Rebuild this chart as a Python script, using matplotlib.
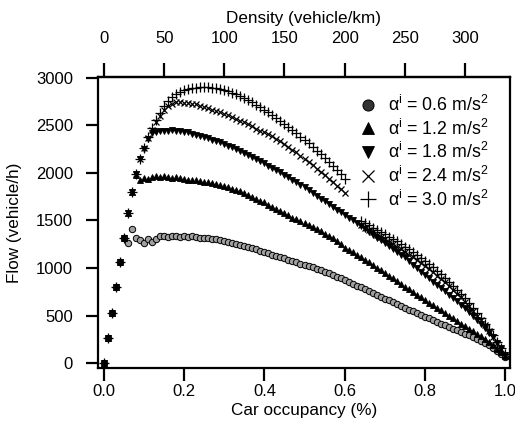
import matplotlib
matplotlib.use("Agg")
import matplotlib.pyplot as plt
from matplotlib.lines import Line2D

plt.rcParams['font.family'] = ['Liberation Sans', 'DejaVu Sans']
plt.rcParams['mathtext.fontset'] = 'custom'
plt.rcParams['mathtext.rm'] = 'Liberation Sans'

# ---------------- data ----------------
occ_full = [round(0.01 * i, 2) for i in range(101)]
occ_gap = occ_full[:61] + occ_full[64:]

flow_06 = [0, 265, 530, 800, 1060, 1320,
           1260, 1405, 1310, 1290,
           1265, 1300, 1270, 1300, 1335, 1340, 1330, 1335, 1340, 1330,
           1335, 1330, 1335, 1325, 1320, 1315, 1310, 1305, 1300, 1295,
           1285, 1270, 1265, 1255, 1245, 1235, 1220, 1205, 1195, 1180,
           1170, 1155, 1140, 1125, 1110, 1100, 1085, 1075, 1060, 1045,
           1030, 1020, 1005, 990, 975, 960, 945, 930, 910, 890,
           875, 855, 835, 815, 795, 775, 755, 735, 715, 695,
           675, 660, 640, 620, 600, 580, 560, 545, 525, 505,
           485, 470, 450, 430, 415, 395, 380, 360, 345, 325,
           305, 290, 270, 250, 230, 210, 185, 160, 130, 100,
           65]

flow_12 = [0, 265, 530, 800, 1060, 1320, 1580, 1800, 1980, 1930,
           1950, 1940, 1960, 1965, 1955, 1965, 1960, 1950, 1955, 1945,
           1935, 1930, 1930, 1920, 1915, 1905, 1900, 1890, 1880, 1870,
           1860, 1850, 1835, 1820, 1805, 1790, 1770, 1750, 1725, 1705,
           1690, 1665, 1640, 1620, 1595, 1575, 1555, 1530, 1510, 1490,
           1470, 1450, 1430, 1405, 1385, 1360, 1335, 1310, 1285, 1255,
           1215, 1190, 1165, 1135, 1110, 1085, 1060, 1030, 1000, 975,
           945, 920, 890, 860, 835, 805, 780, 750, 720, 690,
           665, 635, 610, 580, 555, 525, 500, 470, 445, 415,
           390, 360, 335, 305, 280, 250, 220, 185, 150, 115,
           75]

flow_18 = [0, 265, 530, 800, 1060, 1320, 1580, 1800, 1990, 2150,
           2255, 2360, 2420, 2425, 2435, 2440, 2445, 2450, 2445, 2440,
           2430, 2425, 2410, 2400, 2390, 2375, 2365, 2350, 2335, 2320,
           2300, 2285, 2270, 2250, 2230, 2210, 2190, 2165, 2145, 2120,
           2100, 2075, 2055, 2030, 2005, 1980, 1955, 1930, 1900, 1875,
           1850, 1820, 1790, 1760, 1730, 1700, 1670, 1640, 1610, 1585,
           1560, 1530, 1500, 1470, 1440, 1410, 1380, 1350, 1320, 1290,
           1260, 1230, 1200, 1170, 1140, 1110, 1070, 1035, 995, 960,
           925, 890, 855, 820, 790, 755, 720, 685, 650, 610,
           575, 535, 495, 455, 410, 365, 320, 270, 215, 155,
           85]

flow_24 = [0, 265, 530, 800, 1060, 1320, 1580, 1800, 1990, 2150,
           2260, 2370, 2450, 2540, 2600, 2660, 2700, 2725, 2740, 2740,
           2735, 2730, 2725, 2720, 2705, 2690, 2680, 2665, 2650, 2635,
           2620, 2605, 2590, 2570, 2550, 2530, 2510, 2490, 2465, 2445,
           2425, 2405, 2385, 2360, 2335, 2305, 2275, 2245, 2215, 2180,
           2145, 2110, 2080, 2045, 2010, 1975, 1940, 1900, 1865, 1830,
           1790,
           1450, 1425, 1400, 1375, 1350, 1325,
           1300, 1275, 1250, 1225, 1200, 1170, 1140, 1110, 1080, 1050,
           1020, 990, 955, 920, 885, 850, 810, 770, 730, 690,
           645, 600, 550, 500, 450, 395, 335, 275, 210, 145,
           80]

flow_30 = [0, 265, 530, 800, 1060, 1320, 1580, 1800, 1990, 2150,
           2260, 2380, 2470, 2555, 2625, 2700, 2755, 2800, 2830, 2855,
           2875, 2885, 2890, 2895, 2900, 2900, 2900, 2895, 2890, 2880,
           2870, 2860, 2845, 2825, 2805, 2785, 2765, 2740, 2715, 2690,
           2665, 2635, 2610, 2580, 2545, 2515, 2485, 2450, 2415, 2380,
           2345, 2310, 2270, 2230, 2195, 2155, 2115, 2075, 2030, 1985,
           1940,
           1490, 1470, 1450, 1425, 1400, 1375,
           1355, 1330, 1305, 1280, 1255, 1225, 1195, 1165, 1135, 1105,
           1075, 1040, 1005, 970, 935, 895, 855, 815, 770, 725,
           680, 630, 580, 525, 470, 415, 355, 290, 225, 155,
           90]

labels = [r'$\mathregular{\alpha^{i}}$ = 0.6 m/s$\mathregular{^{2}}$',
          r'$\mathregular{\alpha^{i}}$ = 1.2 m/s$\mathregular{^{2}}$',
          r'$\mathregular{\alpha^{i}}$ = 1.8 m/s$\mathregular{^{2}}$',
          r'$\mathregular{\alpha^{i}}$ = 2.4 m/s$\mathregular{^{2}}$',
          r'$\mathregular{\alpha^{i}}$ = 3.0 m/s$\mathregular{^{2}}$']

x_ticks = [0.0, 0.2, 0.4, 0.6, 0.8, 1.0]
y_ticks = [0, 500, 1000, 1500, 2000, 2500, 3000]
density_ticks = [0, 50, 100, 150, 200, 250, 300]

# ---------------- figure ----------------
fig = plt.figure(figsize=(5.15, 4.36), dpi=100)
ax = fig.add_axes([98 / 515, 1 - 368 / 436, (510 - 98) / 515, (368 - 77) / 436])

series = [
    (occ_full, flow_06, dict(marker='o', ms=4.6, mfc='#a0a0a0', mec='black', mew=0.7)),
    (occ_full, flow_12, dict(marker='^', ms=5, mfc='black', mec='black', mew=0.6)),
    (occ_full, flow_18, dict(marker='v', ms=5, mfc='black', mec='black', mew=0.6)),
    (occ_gap, flow_24, dict(marker='x', ms=5, mec='black', mew=0.9)),
    (occ_gap, flow_30, dict(marker='+', ms=6.5, mec='black', mew=0.9)),
]
handles = []
for (xs, ys, st), lab in zip(series, labels):
    ax.plot(xs, ys, linestyle='none', **st)
    hst = dict(st)
    hst['ms'] = st['ms'] * 1.8
    if st['marker'] == 'o':
        hst['mfc'] = '#333333'
        hst['ms'] = 8
    handles.append(Line2D([], [], linestyle='none', **hst))

ax.set_xlim(-0.015, 1.0125)
ax.set_ylim(-52, 3008)
ax.set_xticks(x_ticks)
ax.set_xticklabels([f'{v:.1f}' for v in x_ticks])
ax.set_yticks(y_ticks)
ax.set_xlabel('Car occupancy (%)', fontsize=12.3, labelpad=3)
ax.set_ylabel('Flow (vehicle/h)', fontsize=12.3, labelpad=10)

for sp in ax.spines.values():
    sp.set_linewidth(1.6)
ax.tick_params(axis='both', direction='out', length=9.5, width=1.6,
               labelsize=12, pad=2)
ax.tick_params(axis='y', length=9, pad=9)

sec = ax.secondary_xaxis('top', functions=(lambda o: o * 1000 / 3,
                                           lambda d: d * 3 / 1000))
sec.set_xticks(density_ticks)
sec.tick_params(direction='out', length=10, width=1.6, labelsize=12, pad=12)
sec.spines['top'].set_linewidth(1.6)
sec.set_xlabel('Density (vehicle/km)', fontsize=12.3, labelpad=6)

leg = fig.legend(handles, labels, loc='upper left',
                 bbox_to_anchor=(351 / 515, 1 - 86 / 436),
                 frameon=False, fontsize=12.8, handlelength=0.9,
                 handletextpad=0.7, labelspacing=0.2, borderpad=0)

fig.savefig('out.png', dpi=100)
